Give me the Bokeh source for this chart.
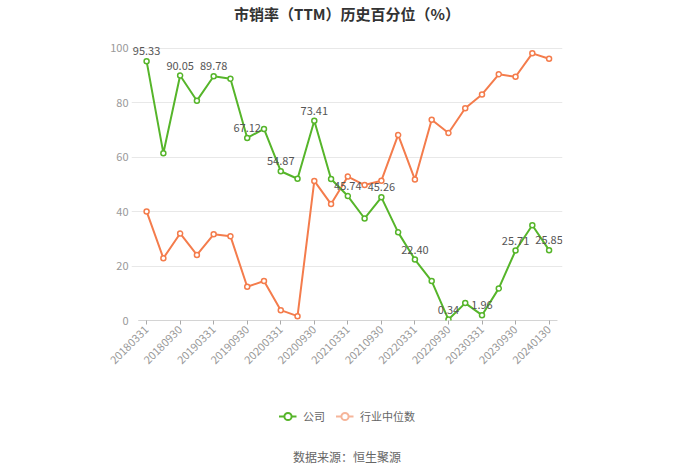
from bokeh.plotting import figure
from bokeh.layouts import column
from bokeh.models import Range1d, FixedTicker, Label, Legend, LegendItem, ColumnDataSource
from bokeh.core.properties import value
from bokeh.embed import file_html
from bokeh.resources import INLINE
import math

dates = ["20180331", "20180630", "20180930", "20181231",
         "20190331", "20190630", "20190930", "20191231",
         "20200331", "20200630", "20200930", "20201231",
         "20210331", "20210630", "20210930", "20211231",
         "20220331", "20220630", "20220930", "20221231",
         "20230331", "20230630", "20230930", "20231231",
         "20240130"]
company = [95.33, 61.5, 90.05, 80.8, 89.78, 88.9, 67.12, 70.4, 54.87, 52.1,
           73.41, 52.0, 45.74, 37.5, 45.26, 32.4, 22.40, 14.5, 0.34, 6.4,
           1.96, 11.8, 25.71, 35.0, 25.85]
industry = [40.1, 22.9, 32.0, 24.1, 31.7, 31.0, 12.4, 14.5, 3.8, 1.6,
            51.3, 42.8, 52.9, 49.8, 51.4, 68.2, 51.8, 73.8, 68.9, 78.0,
            83.1, 90.5, 89.6, 98.2, 96.2]
y_ticks = [0, 20, 40, 60, 80, 100]
series_names = ["公司", "行业中位数"]
title_text = "市销率（TTM）历史百分位（%）"
source_text = "数据来源：恒生聚源"

FONT = "Noto Sans CJK SC"
GREEN = "#56b52a"
ORANGE = "#f47c4c"
ORANGE_FADED = "#f6b59a"

W = 700
n = len(dates)
xs = list(range(n))

# ---------- header (title) ----------
HEAD_H = 28
head = figure(width=W, height=HEAD_H, output_backend="svg", toolbar_location=None,
              x_range=Range1d(0, W), y_range=Range1d(0, HEAD_H),
              x_axis_type=None, y_axis_type=None, min_border=0)
head.outline_line_color = None
head.xgrid.visible = False
head.ygrid.visible = False
head.add_layout(Label(x=W / 2, y=HEAD_H - 13, text=title_text, text_align="center",
                      text_baseline="middle", text_font=FONT, text_font_size="15px",
                      text_font_style="bold", text_color="#333333"))

# ---------- main chart ----------
MAIN_H = 362
p = figure(width=W, height=MAIN_H, output_backend="svg", toolbar_location=None,
           x_range=Range1d(-0.9, n - 0.2), y_range=Range1d(0, 106.6),
           min_border_left=131, min_border_right=138, min_border_top=2,
           min_border_bottom=70)
p.outline_line_color = None

p.xgrid.grid_line_color = None
p.ygrid.grid_line_color = "#e8e8e8"
p.ygrid.ticker = FixedTicker(ticks=y_ticks)

p.yaxis.ticker = FixedTicker(ticks=y_ticks)
p.yaxis.axis_line_color = None
p.yaxis.major_tick_line_color = None
p.yaxis.minor_tick_line_color = None
p.yaxis.major_label_text_color = "#999999"
p.yaxis.major_label_text_font = FONT
p.yaxis.major_label_text_font_size = "11px"
p.yaxis.major_label_standoff = -3

p.xaxis.ticker = FixedTicker(ticks=xs[::2])
p.xaxis.major_label_overrides = {i: dates[i] for i in xs[::2]}
p.xaxis.major_label_orientation = math.pi / 4
p.xaxis.axis_line_color = None
p.xaxis.major_tick_line_color = "#aaaaaa"
p.xaxis.major_tick_in = 0
p.xaxis.major_tick_out = 4
p.xaxis.minor_tick_line_color = None
p.xaxis.major_label_text_color = "#999999"
p.xaxis.major_label_text_font = FONT
p.xaxis.major_label_text_font_size = "11px"
p.xaxis.major_label_standoff = 3

# axis baseline over the category extent
p.segment(x0=[-0.5], y0=[0], x1=[n - 0.5], y1=[0], line_color="#aaaaaa", line_width=1)

src = ColumnDataSource(dict(x=xs, c=company, i=industry))
p.line("x", "i", source=src, line_color=ORANGE, line_width=2)
p.scatter("x", "i", source=src, size=5, fill_color="white", line_color=ORANGE, line_width=1.5)
p.line("x", "c", source=src, line_color=GREEN, line_width=2)
p.scatter("x", "c", source=src, size=5, fill_color="white", line_color=GREEN, line_width=1.5)

lab_x = xs[::2]
lab_y = company[::2]
lab_t = ["%.2f" % v for v in lab_y]
p.text(x=lab_x, y=lab_y, text=lab_t, text_align="center", text_baseline="bottom",
       y_offset=-6, text_font=value(FONT), text_font_size="11px", text_color="#555555")

# ---------- footer (legend + source) ----------
FOOT_H = 473 - HEAD_H - MAIN_H
foot = figure(width=W, height=FOOT_H, output_backend="svg", toolbar_location=None,
              x_range=Range1d(0, W), y_range=Range1d(0, FOOT_H),
              x_axis_type=None, y_axis_type=None, min_border=0)
foot.outline_line_color = None
foot.xgrid.visible = False
foot.ygrid.visible = False

# legend proxies: one point each, placed outside the visible range
px, py = [-50, -40], [-50, -50]
g1 = foot.line(x=px, y=py, line_color=GREEN, line_width=2)
g1c = foot.scatter(x=px[:1], y=py[:1], size=9, fill_color="white", line_color=GREEN, line_width=2)
g2 = foot.line(x=px, y=py, line_color=ORANGE_FADED, line_width=2)
g2c = foot.scatter(x=px[:1], y=py[:1], size=9, fill_color="white", line_color=ORANGE_FADED, line_width=2)

legend = Legend(items=[LegendItem(label=series_names[0], renderers=[g1, g1c]),
                       LegendItem(label=series_names[1], renderers=[g2, g2c])],
                location="top_center", orientation="horizontal",
                label_text_font=FONT, label_text_font_size="11px", label_text_color="#666666",
                glyph_width=18, glyph_height=20, label_standoff=7, spacing=10,
                padding=0, margin=16, border_line_color=None, background_fill_alpha=0)
foot.add_layout(legend, "center")

foot.add_layout(Label(x=W / 2, y=FOOT_H - 66, text=source_text, text_align="center",
                      text_baseline="middle", text_font=FONT, text_font_size="12px",
                      text_color="#666666"))

layout = column(head, p, foot, spacing=0)
open("out.html", "w").write(file_html(layout, INLINE))
